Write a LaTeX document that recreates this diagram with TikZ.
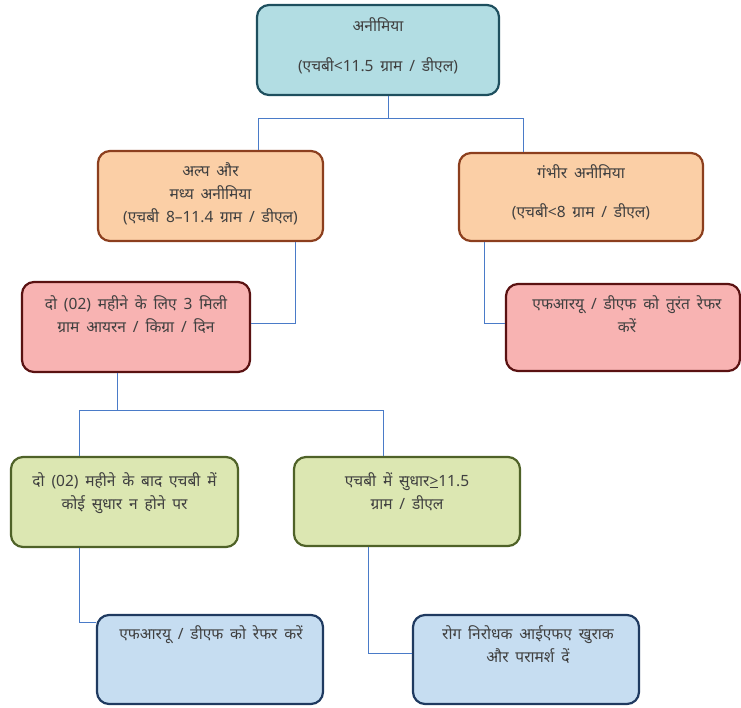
\documentclass[tikz,border=0pt]{standalone}
\usepackage{fontspec}
\newfontfamily\dev[Script=Devanagari,WordSpace=1.7]{Noto Sans}
\definecolor{tealfill}{HTML}{B2DDE3}
\definecolor{tealdraw}{HTML}{1E4F5E}
\definecolor{orfill}{HTML}{FBCFA6}
\definecolor{ordraw}{HTML}{8C3F1E}
\definecolor{redfill}{HTML}{F8B3B2}
\definecolor{reddraw}{HTML}{5A1212}
\definecolor{grfill}{HTML}{DCE7B2}
\definecolor{grdraw}{HTML}{4F6228}
\definecolor{blfill}{HTML}{C6DDF1}
\definecolor{bldraw}{HTML}{1F3A60}
\definecolor{connc}{HTML}{4A7BC8}
\definecolor{txtc}{HTML}{404040}
\begin{document}
\begin{tikzpicture}[x=1pt,y=-1pt,
  box/.style={draw, line width=2.2pt, rounded corners=12pt, inner sep=0pt},
  txt/.style={anchor=north, align=center, inner sep=0pt, text=txtc,
    font={\dev\fontsize{15.5}{23}\selectfont}},
  conn/.style={draw=connc, line width=0.8pt}]
\useasboundingbox (0,0) rectangle (741,708);
% boxes
\node[box, fill=tealfill, draw=tealdraw, minimum width=242pt, minimum height=90pt] (b1) at (378,50) {};
\node[box, fill=orfill, draw=ordraw, minimum width=225pt, minimum height=90pt] (b2) at (210.5,196) {};
\node[box, fill=orfill, draw=ordraw, minimum width=244pt, minimum height=88pt] (b3) at (581,197) {};
\node[box, fill=redfill, draw=reddraw, minimum width=228pt, minimum height=90pt] (b4) at (136,327) {};
\node[box, fill=redfill, draw=reddraw, minimum width=234pt, minimum height=87pt] (b5) at (623,327.5) {};
\node[box, fill=grfill, draw=grdraw, minimum width=227pt, minimum height=90pt] (b6) at (124.5,502) {};
\node[box, fill=grfill, draw=grdraw, minimum width=226pt, minimum height=89pt] (b7) at (407,501.5) {};
\node[box, fill=blfill, draw=bldraw, minimum width=226pt, minimum height=89pt] (b8) at (210,659.5) {};
\node[box, fill=blfill, draw=bldraw, minimum width=226pt, minimum height=89pt] (b9) at (526,659.5) {};
% texts
\node[txt] (t1) at (378,17) {अनीमिया\\[17pt](एचबी<11.5 ग्राम / डीएल)};
\node[txt] (t2) at (210.5,162) {अल्प और\\मध्य अनीमिया\\(एचबी 8–11.4 ग्राम / डीएल)};
\node[txt] (t3) at (581,164) {गंभीर अनीमिया\\[16pt](एचबी<8 ग्राम / डीएल)};
\node[txt] (t4) at (136,295) {दो (02) महीने के लिए 3 मिली\\ग्राम आयरन / किग्रा / दिन};
\node[txt] (t5) at (627,295) {एफआरयू / डीएफ को तुरंत रेफर\\करें};
\node[txt] (t6) at (124.5,472) {दो (02) महीने के बाद एचबी में\\कोई सुधार न होने पर};
\node[txt] (t7) at (407,472) {एचबी में सुधार\underline{>}11.5\\ग्राम / डीएल};
\node[txt] (t8) at (211,625) {एफआरयू / डीएफ को रेफर करें};
\node[txt] (t9) at (528,625) {रोग निरोधक आईएफए खुराक\\और परामर्श दें};
% connectors
\coordinate (bus1) at (0,118);
\coordinate (bus2) at (0,410);
\draw[conn] ([xshift=10pt]b1.south) -- ([xshift=10pt]b1.south |- bus1);
\draw[conn] ([xshift=47.5pt]b2.north) |- ([xshift=-58pt]b3.north |- bus1) -- ([xshift=-58pt]b3.north);
\draw[conn] ([xshift=84.5pt]b2.south) |- ([yshift=4pt]b4.east);
\draw[conn] ([xshift=-97pt]b3.south) |- ([yshift=4.5pt]b5.west);
\draw[conn] ([xshift=-19pt]b4.south) -- ([xshift=-19pt]b4.south |- bus2);
\draw[conn] ([xshift=-45.5pt]b6.north) |- ([xshift=-24pt]b7.north |- bus2) -- ([xshift=-24pt]b7.north);
\draw[conn] ([xshift=-45.5pt]b6.south) |- ([yshift=37.5pt]b8.west);
\draw[conn] ([xshift=-39pt]b7.south) |- ([yshift=6.5pt]b9.west);
\end{tikzpicture}
\end{document}
